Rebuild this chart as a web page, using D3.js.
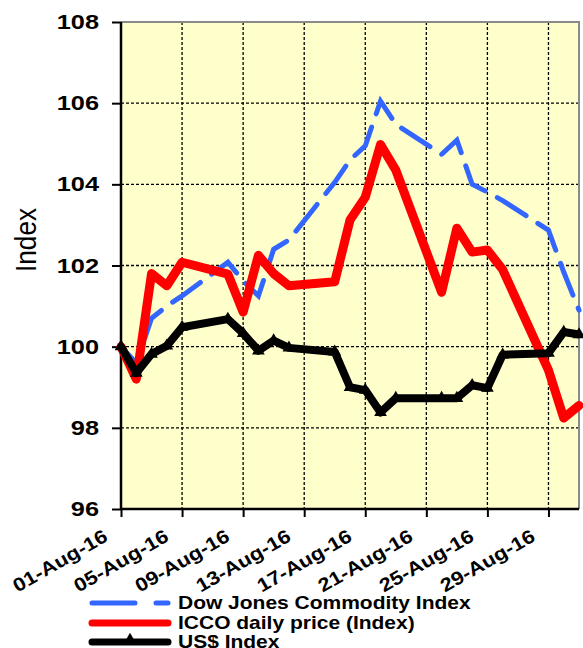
<!DOCTYPE html>
<meta charset="utf-8">
<script src="https://d3js.org/d3.v7.min.js"></script>
<style>
  body { margin: 0; background: #fff; }
  text { font-family: "Liberation Sans", Arial, sans-serif; font-weight: bold; fill: #000; }
</style>
<div id="chart"></div>
<script>
// business days of August 2016
var days = [1,2,3,4,5,8,9,10,11,12,15,16,17,18,19,22,23,24,25,26,29,30,31];

var dowJones = [100.0, 99.6, 100.7, 101.0, 101.25, 102.08, 101.62, 101.25, 102.4, 102.63,
                104.05, 104.6, 104.95, 106.05, 105.48, 104.74, 105.09, 104.0, 103.81, 103.6,
                102.87, 101.84, 100.9];
var icco = [100.0, 99.2, 101.8, 101.5, 102.08, 101.79, 100.85, 102.25, 101.8, 101.5,
            101.6, 103.12, 103.68, 104.98, 104.35, 101.34, 102.92, 102.33, 102.38, 101.9,
            99.42, 98.24, 98.55];
var usd = [100.0, 99.35, 99.82, 100.02, 100.48, 100.68, 100.33, 99.9, 100.15, 99.97,
           99.87, 99.0, 98.93, 98.38, 98.73, 98.73, 98.73, 99.05, 98.98, 99.8,
           99.84, 100.36, 100.3];

var xTickDays = [1,5,9,13,17,21,25,29];
var xTickLabels = ["01-Aug-16","05-Aug-16","09-Aug-16","13-Aug-16","17-Aug-16","21-Aug-16","25-Aug-16","29-Aug-16"];
var yTicks = [96,98,100,102,104,106,108];

var seriesNames = ["Dow Jones Commodity Index", "ICCO daily price (Index)", "US$ Index"];

var W = 583, H = 648;
var plotL = 121, plotR = 579, plotT = 22, plotB = 509;

var svg = d3.select("#chart").append("svg")
    .attr("width", W).attr("height", H);

var x = d3.scaleLinear().domain([1, 31]).range([plotL, plotR]);
var y = d3.scaleLinear().domain([96, 108]).range([plotB, plotT]);

// plot background
svg.append("rect")
    .attr("x", plotL).attr("y", plotT)
    .attr("width", plotR - plotL).attr("height", plotB - plotT)
    .attr("fill", "#ffffcc");

// grid
svg.selectAll(".hgrid")
  .data(yTicks.filter(function(d){ return d > 96 && d < 108; }))
  .enter().append("line")
    .attr("x1", plotL).attr("x2", plotR)
    .attr("y1", function(d){ return y(d); }).attr("y2", function(d){ return y(d); })
    .attr("stroke", "#000").attr("stroke-width", 1.3)
    .attr("stroke-dasharray", "3,2");

svg.selectAll(".vgrid")
  .data(xTickDays.slice(1))
  .enter().append("line")
    .attr("y1", plotT).attr("y2", plotB)
    .attr("x1", function(d){ return x(d); }).attr("x2", function(d){ return x(d); })
    .attr("stroke", "#000").attr("stroke-width", 1.3)
    .attr("stroke-dasharray", "3,2");

// grey frame top/right
svg.append("path")
    .attr("d", "M" + plotL + "," + plotT + "H" + plotR + "V" + plotB)
    .attr("fill", "none").attr("stroke", "#8a8a8a").attr("stroke-width", 2);

// axes
var yAxis = svg.append("g")
    .attr("transform", "translate(" + plotL + ",0)")
    .call(d3.axisLeft(y).tickValues(yTicks).tickSize(9).tickFormat(""));
var xAxis = svg.append("g")
    .attr("transform", "translate(0," + plotB + ")")
    .call(d3.axisBottom(x).tickValues(xTickDays).tickSize(8).tickFormat(""));
[yAxis, xAxis].forEach(function(a){
  a.select(".domain").attr("stroke", "#000").attr("stroke-width", 2.5);
  a.selectAll(".tick line").attr("stroke", "#000").attr("stroke-width", 2);
});
xAxis.select(".domain").attr("d", "M" + plotL + ",0H" + plotR);
yAxis.select(".domain").attr("d", "M0," + plotT + "V" + plotB);

// y tick labels (text in the picture is stretched wide)
yTicks.forEach(function(v){
  svg.append("g")
    .attr("transform", "translate(99," + (y(v) + 7) + ")")
    .append("text")
      .attr("transform", "scale(1.3,1)")
      .attr("text-anchor", "end")
      .style("font-size", "19.5px")
      .text(v);
});

// x tick labels
xTickDays.forEach(function(d, i){
  svg.append("g")
    .attr("transform", "translate(" + (x(d) - 12) + ",540) rotate(-30)")
    .append("text")
      .attr("transform", "scale(1.15,1)")
      .attr("text-anchor", "end")
      .style("font-size", "19px")
      .text(xTickLabels[i]);
});

// y axis title
svg.append("g")
  .attr("transform", "translate(36,240) rotate(-90)")
  .append("text")
    .attr("transform", "scale(1.05,1.2)")
    .attr("text-anchor", "middle")
    .style("font-size", "25px")
    .style("font-weight", "normal")
    .text("Index");

// lines
var line = d3.line()
    .x(function(d){ return x(d[0]); })
    .y(function(d){ return y(d[1]); });

function pairs(vals){ return days.map(function(d, i){ return [d, vals[i]]; }); }

var plot = svg.append("g");

plot.append("path")
    .datum(pairs(dowJones))
    .attr("d", line)
    .attr("fill", "none").attr("stroke", "#3366ff")
    .attr("stroke-width", 5).attr("stroke-linecap", "round")
    .attr("stroke-dasharray", "34,14");

plot.append("path")
    .datum(pairs(icco))
    .attr("d", line)
    .attr("fill", "none").attr("stroke", "#ff0000")
    .attr("stroke-width", 9).attr("stroke-linejoin", "round").attr("stroke-linecap", "round");

plot.append("path")
    .datum(pairs(usd))
    .attr("d", line)
    .attr("fill", "none").attr("stroke", "#000")
    .attr("stroke-width", 8).attr("stroke-linejoin", "round");

var tri = d3.symbol().type(d3.symbolTriangle).size(70);
plot.selectAll(".mk")
  .data(pairs(usd))
  .enter().append("path")
    .attr("d", tri)
    .attr("transform", function(d){ return "translate(" + x(d[0]) + "," + y(d[1]) + ")"; })
    .attr("fill", "#000");

// legend
var legY = [603, 623, 642];
var leg = svg.append("g");
leg.append("line").attr("x1", 92).attr("x2", 168).attr("y1", legY[0]).attr("y2", legY[0])
    .attr("stroke", "#3366ff").attr("stroke-width", 5).attr("stroke-linecap", "round")
    .attr("stroke-dasharray", "43,21");
leg.append("line").attr("x1", 92).attr("x2", 168).attr("y1", legY[1]).attr("y2", legY[1])
    .attr("stroke", "#ff0000").attr("stroke-width", 7).attr("stroke-linecap", "round");
leg.append("line").attr("x1", 92).attr("x2", 168).attr("y1", legY[2]).attr("y2", legY[2])
    .attr("stroke", "#000").attr("stroke-width", 7).attr("stroke-linecap", "round");
leg.append("path").attr("d", tri).attr("fill", "#000")
    .attr("transform", "translate(130," + (legY[2] - 2) + ")");

seriesNames.forEach(function(n, i){
  leg.append("g")
    .attr("transform", "translate(178," + (legY[i] + 6) + ")")
    .append("text")
      .attr("transform", "scale(1.2,1)")
      .style("font-size", "17.5px")
      .text(n);
});
</script>
